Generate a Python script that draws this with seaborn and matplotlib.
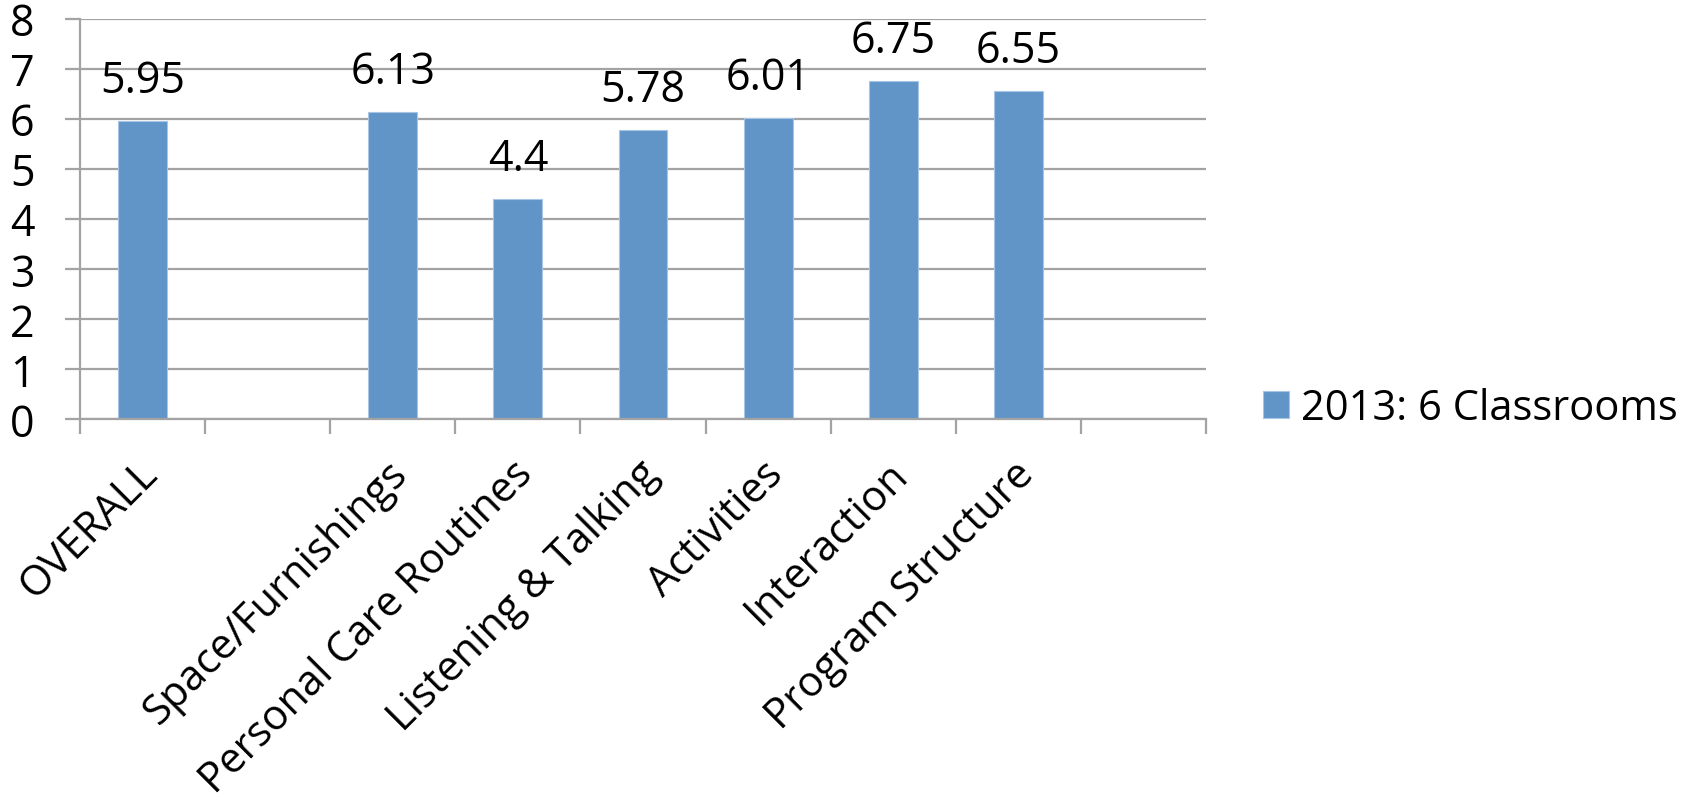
import numpy as np
import matplotlib
matplotlib.use("Agg")
import matplotlib.pyplot as plt
import matplotlib.transforms as mtransforms
import seaborn as sns
import pandas as pd

# Category slots (blank slots keep the gaps on the axis)
categories = ["OVERALL", " ", "Space/Furnishings", "Personal Care Routines",
              "Listening & Talking", "Activities", "Interaction",
              "Program Structure", "  "]
scores = [5.95, np.nan, 6.13, 4.40, 5.78, 6.01, 6.75, 6.55, np.nan]
series_name = "2013: 6 Classrooms"
y_ticks = [0, 1, 2, 3, 4, 5, 6, 7, 8]

sns.set_style("white")
plt.rcParams["font.family"] = ["Open Sans", "DejaVu Sans"]
plt.rcParams["text.color"] = "black"
plt.rcParams["xtick.color"] = "black"
plt.rcParams["ytick.color"] = "black"

BAR = "#6195C8"
GRID = "#A3A3A3"
FS_NUM = 31
FS_CAT = 30
FS_LEG = 30

df = pd.DataFrame({"category": categories, "score": scores, "series": series_name})

W, H = 1696, 803
fig = plt.figure(figsize=(W / 100, H / 100), dpi=100)
ax = fig.add_axes([80 / W, 1 - 420 / H, (1206 - 80) / W, (420 - 19.5) / H])

sns.barplot(data=df, x="category", y="score", hue="series", order=categories,
            palette=[BAR], saturation=1, width=0.39, ax=ax, legend=True,
            edgecolor="#A9C5E6", linewidth=0.8)

ax.set_xlim(-0.5, len(categories) - 0.5)
ax.set_ylim(0, 8)
ax.set_yticks(y_ticks)
ax.set_xlabel("")
ax.set_ylabel("")

# gridlines and axes lines
ax.grid(axis="y", color=GRID, linewidth=1.6)
ax.set_axisbelow(True)
for side in ["top", "right"]:
    ax.spines[side].set_visible(False)
for side in ["left", "bottom"]:
    ax.spines[side].set_color(GRID)
    ax.spines[side].set_linewidth(1.6)

ax.tick_params(axis="y", which="major", length=10.8, width=1.6, color=GRID,
               labelcolor="black", labelsize=FS_NUM, pad=22, direction="out",
               left=True)

# category labels sit between boundary tick marks
ax.set_xticks(range(len(categories)))
ax.set_xticklabels(categories)
ax.set_xticks(np.arange(-0.5, len(categories), 1.0), minor=True)
ax.tick_params(axis="x", which="major", length=0, labelsize=FS_CAT, pad=24,
               labelcolor="black")
ax.tick_params(axis="x", which="minor", length=10.8, width=1.6, color=GRID,
               direction="out", bottom=True)
shift = mtransforms.ScaledTranslation(-6 / 100, 0, fig.dpi_scale_trans)
for lbl in ax.get_xticklabels():
    lbl.set_rotation(45)
    lbl.set_ha("right")
    lbl.set_va("top")
    lbl.set_rotation_mode("anchor")
    lbl.set_transform(lbl.get_transform() + shift)

# value labels
for cont in ax.containers:
    ax.bar_label(cont, fmt="{:g}", padding=13, fontsize=FS_NUM, color="black")

handles, labels = ax.get_legend_handles_labels()
ax.legend(handles, labels, loc="center left",
          bbox_to_anchor=(1263 / W, 1 - 409 / H), bbox_transform=fig.transFigure,
          frameon=False, fontsize=FS_LEG, handlelength=0.62, handleheight=0.62,
          handletextpad=0.3, borderpad=0, borderaxespad=0)

fig.savefig("out.png", dpi=100)
